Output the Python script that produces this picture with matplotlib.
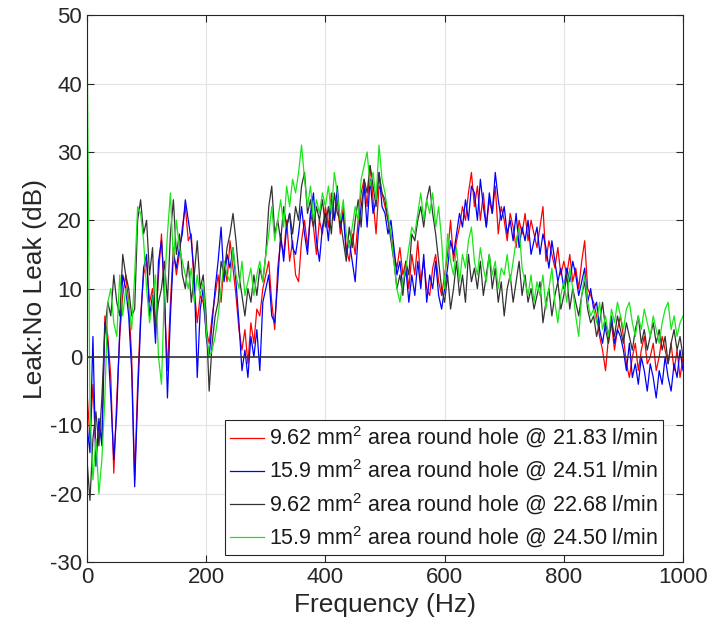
import numpy as np
import matplotlib
matplotlib.use("Agg")
import matplotlib.pyplot as plt

plt.rcParams['font.family'] = ['Liberation Sans', 'DejaVu Sans']
plt.rcParams['mathtext.fontset'] = 'custom'
plt.rcParams['mathtext.rm'] = 'Liberation Sans'
plt.rcParams['mathtext.it'] = 'Liberation Sans:italic'
plt.rcParams['axes.unicode_minus'] = False

# frequency axis, 5 Hz steps
freq = np.arange(0, 1001, 5)

# 9.62 mm2 @ 21.83 l/min
red = (
    [-5, -12, -4, -14, -10, -12, 6, 3, -3, -17]
    + [-6, 3, 9, 12, 8, 0, -18, -4, 6, 12]
    + [14, 8, 10, 4, 12, 18, 8, -2, 8, 16]
    + [12, 15, 19, 22, 17, 18, 10, 5, 9, 8]
    + [4, 2, 6, 9, 12, 8, 14, 11, 17, 13]
    + [9, 4, 1, 4, -1, 5, 2, 7, 6, 10]
    + [12, 14, 8, 4, 13, 17, 15, 20, 14, 17]
    + [12, 11, 17, 20, 16, 21, 19, 15, 20, 18]
    + [22, 19, 24, 20, 23, 18, 22, 16, 14, 18]
    + [15, 20, 24, 26, 22, 28, 23, 18, 25, 24]
    + [22, 20, 18, 15, 13, 16, 12, 14, 10, 15]
    + [12, 17, 11, 14, 10, 9, 13, 15, 11, 9]
    + [12, 15, 20, 14, 17, 19, 22, 20, 24, 27]
    + [22, 25, 20, 24, 19, 23, 21, 25, 18, 22]
    + [20, 17, 21, 19, 16, 20, 18, 21, 17, 20]
    + [18, 16, 19, 22, 14, 17, 15, 13, 16, 12]
    + [14, 12, 15, 11, 13, 10, 14, 17, 10, 9]
    + [8, 6, 3, 1, -2, 3, 5, 1, 4, 6]
    + [3, -1, -3, 0, 2, -2, 1, 3, -1, 0]
    + [2, -2, 0, 3, 1, -1, 2, -2, 1, -3, 0]
)

# 15.9 mm2 @ 24.51 l/min
blue = (
    [-10, -14, 3, -16, -9, -13, 5, 2, -6, -15]
    + [-8, 4, 12, 10, 6, -2, -19, -6, 5, 13]
    + [15, 6, 9, 2, 14, 17, 10, -6, 6, 15]
    + [13, 16, 18, 23, 20, 17, 12, -3, 7, 10]
    + [3, 0, 5, 10, 14, 19, 11, 15, 13, 16]
    + [11, 5, -2, 1, -3, 3, 0, 4, -2, 8]
    + [10, 12, 6, 5, 11, 18, 14, 19, 21, 16]
    + [15, 18, 22, 18, 15, 21, 24, 17, 14, 19]
    + [21, 17, 23, 20, 25, 19, 21, 15, 17, 14]
    + [11, 18, 22, 25, 19, 26, 21, 23, 27, 22]
    + [21, 18, 20, 16, 12, 14, 10, 13, 8, 12]
    + [9, 14, 10, 15, 8, 12, 10, 14, 9, 7]
    + [10, 13, 17, 15, 18, 21, 19, 23, 20, 25]
    + [24, 20, 26, 22, 19, 24, 21, 27, 23, 20]
    + [22, 18, 20, 17, 21, 16, 19, 17, 20, 15]
    + [17, 19, 15, 18, 16, 13, 17, 14, 11, 13]
    + [10, 13, 11, 14, 12, 9, 11, 13, 8, 10]
    + [7, 8, 4, 2, 5, 3, 6, 2, 4, 3]
    + [1, -2, 2, -3, -1, -4, 0, -2, -5, -1]
    + [-3, -6, -2, -4, 0, -3, -5, -1, -3, 1, -2]
)

# 9.62 mm2 @ 22.68 l/min
black = (
    [-15, -21, -12, -8, -13, -6, 4, 8, 6, 12]
    + [8, 6, 15, 12, 10, 6, 7, 20, 23, 18]
    + [20, 12, 16, 4, 8, 10, 14, 8, 18, 23]
    + [15, 18, 12, 10, 14, 8, 12, 17, 10, 12]
    + [6, -5, 2, 6, 8, 14, 12, 16, 18, 21]
    + [17, 12, 9, 6, 10, 8, 12, 9, 13, 11]
    + [15, 22, 25, 18, 20, 17, 22, 19, 21, 18]
    + [22, 20, 25, 27, 21, 23, 19, 22, 20, 23]
    + [19, 22, 18, 24, 21, 20, 17, 14, 19, 16]
    + [20, 23, 19, 26, 24, 28, 25, 22, 27, 24]
    + [23, 20, 17, 14, 10, 12, 9, 14, 12, 18]
    + [17, 20, 22, 19, 23, 25, 21, 18, 14, 10]
    + [8, 12, 7, 10, 14, 9, 12, 8, 15, 11]
    + [13, 10, 14, 9, 12, 15, 10, 13, 8, 11]
    + [6, 10, 12, 8, 11, 14, 9, 12, 8, 10]
    + [7, 9, 11, 5, 8, 10, 6, 9, 11, 7]
    + [9, 12, 7, 10, 8, 6, 9, 11, 7, 5]
    + [6, 3, 5, 8, 4, 2, 5, 3, 6, 4]
    + [2, 5, 3, 1, 4, 6, 2, 4, 1, 3]
    + [5, 2, 4, 1, 3, -1, 2, 4, 1, 3, 0]
)

# 15.9 mm2 @ 24.50 l/min
green = (
    [50, -8, -18, -12, -20, -15, -6, 8, 10, 5]
    + [3, 12, 6, 10, 8, 4, 12, 22, 21, 17]
    + [10, 5, 8, 12, 0, -4, 10, 18, 24, 14]
    + [20, 16, 14, 12, 10, 13, 8, 12, 9, 11]
    + [4, 0, 1, 3, 6, 10, 14, 12, 11, 16]
    + [12, 10, 14, 9, 11, 13, 9, 12, 14, 11]
    + [15, 18, 22, 17, 20, 23, 19, 25, 22, 26]
    + [24, 27, 31, 26, 22, 25, 20, 23, 21, 24]
    + [22, 25, 21, 27, 24, 20, 23, 18, 16, 19]
    + [22, 20, 26, 28, 30, 25, 27, 23, 31, 26]
    + [24, 21, 18, 14, 10, 8, 11, 13, 16, 19]
    + [18, 21, 24, 20, 23, 21, 24, 19, 22, 17]
    + [10, 18, 14, 12, 16, 11, 15, 13, 17, 19]
    + [14, 12, 16, 13, 11, 15, 12, 14, 10, 13]
    + [12, 15, 11, 14, 17, 19, 13, 11, 9, 12]
    + [8, 11, 9, 12, 7, 10, 13, 8, 5, 9]
    + [11, 8, 13, 10, 6, 3, 9, 12, 8, 6]
    + [7, 5, 8, 4, 6, 3, 7, 5, 8, 6]
    + [4, 7, 8, 5, 3, 6, 4, 7, 5, 3]
    + [6, 4, 2, 5, 7, 8, 4, 6, 3, 5, 6]
)

labels = [
    r"9.62 mm$^2$ area round hole @ 21.83 l/min",
    r"15.9 mm$^2$ area round hole @ 24.51 l/min",
    r"9.62 mm$^2$ area round hole @ 22.68 l/min",
    r"15.9 mm$^2$ area round hole @ 24.50 l/min",
]
colors = ["#ff0000", "#0000ff", "#333333", "#19e619"]

fig = plt.figure(figsize=(7.1, 6.35), dpi=100)
ax = fig.add_axes([0.1225, 0.115, 0.8395, 0.861])

for ys, c, lab in zip([red, blue, black, green], colors, labels):
    ax.plot(freq, ys, color=c, lw=0.9, label=lab)

ax.axhline(0, color="#333333", lw=1.2, zorder=3)

ax.set_xlim(0, 1000)
ax.set_ylim(-30, 50)
ax.set_xticks([0, 200, 400, 600, 800, 1000])
ax.set_yticks(range(-30, 51, 10))
ax.grid(True, color="#e3e3e3", lw=0.8)
ax.set_axisbelow(True)
ax.tick_params(direction="in", top=True, right=True, labelsize=16,
               color="#262626", labelcolor="#262626", length=5)
for s in ax.spines.values():
    s.set_color("#262626")
    s.set_linewidth(0.8)

ax.set_xlabel("Frequency (Hz)", fontsize=19, color="#262626", labelpad=4)
ax.set_ylabel("Leak:No Leak (dB)", fontsize=19, color="#262626", labelpad=2)

leg = ax.legend(loc="lower right", bbox_to_anchor=(0.9664, 0.0128), borderaxespad=0,
                fontsize=15.5, fancybox=False, framealpha=1, edgecolor="#262626",
                handlelength=1.6, handletextpad=0.2, borderpad=0.25, labelspacing=0.35)
leg.get_frame().set_linewidth(0.8)
for t in leg.get_texts():
    t.set_color("#1a1a1a")

fig.savefig("out.png", dpi=100)
